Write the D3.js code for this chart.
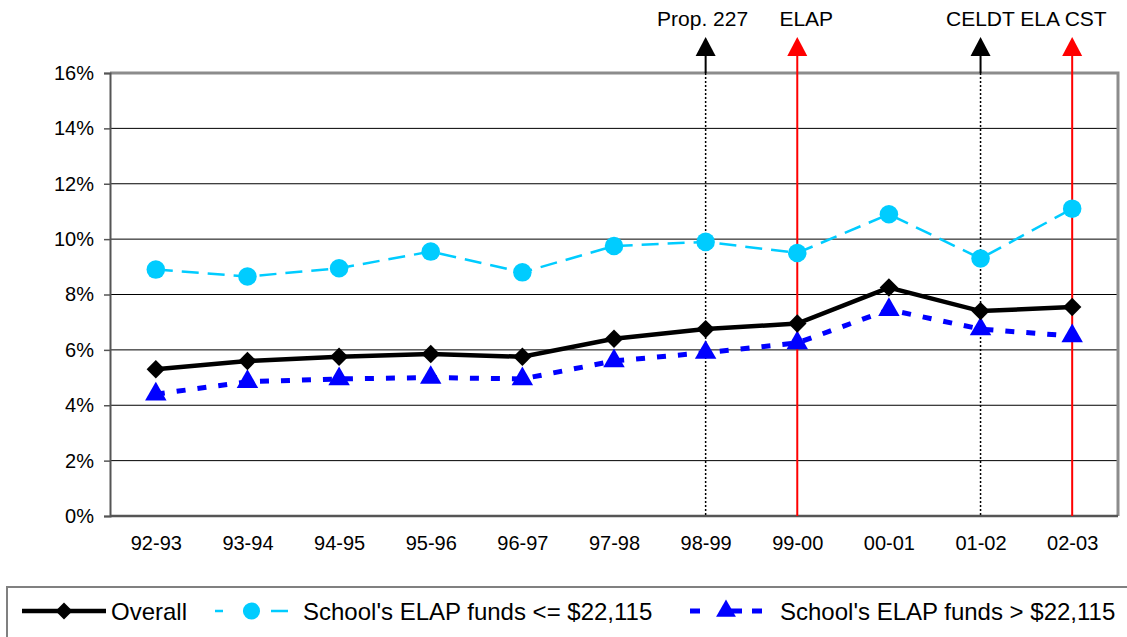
<!DOCTYPE html>
<html>
<head>
<meta charset="utf-8">
<script src="https://cdn.jsdelivr.net/npm/d3@7"></script>
<style>
	body { margin: 0; background: #fff; }
	svg { display: block; font-family: "Liberation Sans", Arial, sans-serif; }
</style>
</head>
<body>
<svg id="chart" width="1127" height="637"></svg>
<script>
// school years on the x axis
const years = ["92-93","93-94","94-95","95-96","96-97","97-98","98-99","99-00","00-01","01-02","02-03"];

// percent values
const overall = [5.3,5.6,5.75,5.85,5.75,6.4,6.75,6.95,8.25,7.4,7.55];
const lowFunds = [8.9,8.65,8.95,9.55,8.8,9.75,9.9,9.5,10.9,9.3,11.1];
const highFunds = [4.4,4.85,4.95,5.0,4.95,5.6,5.9,6.25,7.45,6.75,6.5];

const yTicks = [0,2,4,6,8,10,12,14,16];

// policy markers drawn as arrows above the plot
const events = [
	{year: "98-99", color: "#000", dotted: true},
	{year: "99-00", color: "#ff0000", dotted: false},
	{year: "01-02", color: "#000", dotted: true},
	{year: "02-03", color: "#ff0000", dotted: false}
];

const dims = { left: 110, right: 1118, top: 73, bottom: 516 };

const svg = d3.select("#chart");

const x = d3.scalePoint()
	.domain(years)
	.range([dims.left, dims.right])
	.padding(0.5);

const y = d3.scaleLinear()
	.domain([0, 16])
	.range([dims.bottom, dims.top]);

// gridlines
svg.append("g")
	.selectAll("line")
	.data(yTicks.filter(d => d > 0 && d < 16))
	.enter()
	.append("line")
	.attr("x1", dims.left).attr("x2", dims.right)
	.attr("y1", d => y(d)).attr("y2", d => y(d))
	.attr("stroke", "#000")
	.attr("stroke-width", 1);

// plot frame (top + right in lighter gray)
svg.append("path")
	.attr("d", `M${dims.left},${dims.top}H${dims.right}V${dims.bottom}`)
	.attr("fill", "none")
	.attr("stroke", "#8c8c8c")
	.attr("stroke-width", 3);

// y axis
const yAxis = svg.append("g")
	.attr("transform", `translate(${dims.left},0)`)
	.call(d3.axisLeft(y).tickValues(yTicks).tickSize(6).tickPadding(10).tickFormat(d => d + "%"));
yAxis.select(".domain").attr("stroke", "#555").attr("stroke-width", 2);
yAxis.selectAll(".tick line").attr("stroke", "#555").attr("stroke-width", 1.5);
yAxis.selectAll("text")
	.attr("font-size", 20)
	.attr("fill", "#000")
	.style("font-family", "Liberation Sans, Arial, sans-serif");

// x axis
const xAxis = svg.append("g")
	.attr("transform", `translate(0,${dims.bottom})`)
	.call(d3.axisBottom(x).tickSize(0).tickPadding(20));
xAxis.select(".domain")
	.attr("d", `M${dims.left},0H${dims.right}`)
	.attr("stroke", "#555").attr("stroke-width", 2.5);
xAxis.selectAll("text")
	.attr("font-size", 20)
	.attr("fill", "#000")
	.style("font-family", "Liberation Sans, Arial, sans-serif");

// event lines and arrows
const arrowTip = 37, arrowBase = 56;
const ev = svg.append("g").selectAll("g")
	.data(events)
	.enter()
	.append("g");

ev.append("line")
	.attr("x1", d => x(d.year)).attr("x2", d => x(d.year))
	.attr("y1", arrowBase).attr("y2", d => d.dotted ? dims.top : dims.bottom)
	.attr("stroke", d => d.color)
	.attr("stroke-width", 2);

ev.filter(d => d.dotted)
	.append("line")
	.attr("x1", d => x(d.year)).attr("x2", d => x(d.year))
	.attr("y1", dims.top).attr("y2", dims.bottom)
	.attr("stroke", "#000")
	.attr("stroke-width", 1.5)
	.attr("stroke-dasharray", "2,2");

ev.append("path")
	.attr("d", d => `M${x(d.year)},${arrowTip}L${x(d.year) + 10},${arrowBase}L${x(d.year) - 10},${arrowBase}Z`)
	.attr("fill", d => d.color);

const labelStyle = sel => sel
	.attr("font-size", 21)
	.attr("fill", "#000")
	.attr("text-anchor", "middle");

svg.append("text")
	.call(labelStyle)
	.attr("x", x("98-99") - 3)
	.attr("y", 26)
	.text("Prop. 227");

svg.append("text")
	.call(labelStyle)
	.attr("x", x("99-00") + 9)
	.attr("y", 26)
	.text("ELAP");

svg.append("text")
	.call(labelStyle)
	.attr("x", (x("01-02") + x("02-03")) / 2)
	.attr("y", 26)
	.text("CELDT ELA CST");

// series
const diamond = {
	draw(ctx, size) {
		const r = Math.sqrt(size / 2);
		ctx.moveTo(0, -r);
		ctx.lineTo(r, 0);
		ctx.lineTo(0, r);
		ctx.lineTo(-r, 0);
		ctx.closePath();
	}
};

const series = [
	{name: "Overall", values: overall, color: "#000", width: 4.5, dash: null, symbol: diamond, size: 170,
		legendDash: null},
	{name: "School's ELAP funds <= $22,115", values: lowFunds, color: "#00ccff", width: 2.5, dash: "17,9", symbol: d3.symbolCircle, size: 270,
		legendDash: "8,20,14,14,17"},
	{name: "School's ELAP funds > $22,115", values: highFunds, color: "#0000ff", width: 5, dash: "9,12", symbol: d3.symbolTriangle, size: 200,
		legendDash: "10,22,20,10,10"}
];

const line = d3.line()
	.x((d, i) => x(years[i]))
	.y(d => y(d));

const drawOrder = [series[1], series[2], series[0]];

drawOrder.forEach(s => {
	svg.append("path")
		.datum(s.values)
		.attr("fill", "none")
		.attr("stroke", s.color)
		.attr("stroke-width", s.width)
		.attr("stroke-dasharray", s.dash)
		.attr("d", line);

	svg.append("g")
		.selectAll("path")
		.data(s.values)
		.enter()
		.append("path")
		.attr("transform", (d, i) => `translate(${x(years[i])},${y(d)})`)
		.attr("d", d3.symbol().type(s.symbol).size(s.size))
		.attr("fill", s.color);
});

// legend
svg.append("rect")
	.attr("x", 7).attr("y", 587)
	.attr("width", 1130).attr("height", 60)
	.attr("fill", "#fff")
	.attr("stroke", "#808080")
	.attr("stroke-width", 2);

const legendItems = [
	{s: series[0], x1: 22, x2: 106, textX: 111},
	{s: series[1], x1: 215, x2: 288, textX: 303},
	{s: series[2], x1: 690, x2: 762, textX: 780}
];
const legY = 611;

const leg = svg.append("g").selectAll("g")
	.data(legendItems)
	.enter()
	.append("g");

leg.append("line")
	.attr("x1", d => d.x1).attr("x2", d => d.x2)
	.attr("y1", legY).attr("y2", legY)
	.attr("stroke", d => d.s.color)
	.attr("stroke-width", d => d.s.width)
	.attr("stroke-dasharray", d => d.s.legendDash);

leg.append("path")
	.attr("transform", d => `translate(${(d.x1 + d.x2) / 2},${legY})`)
	.attr("d", d => d3.symbol().type(d.s.symbol).size(d.s.size * 0.85)())
	.attr("fill", d => d.s.color);

leg.append("text")
	.attr("x", d => d.textX)
	.attr("y", legY + 9)
	.attr("font-size", 24)
	.attr("fill", "#000")
	.text(d => d.s.name);
</script>
</body>
</html>
